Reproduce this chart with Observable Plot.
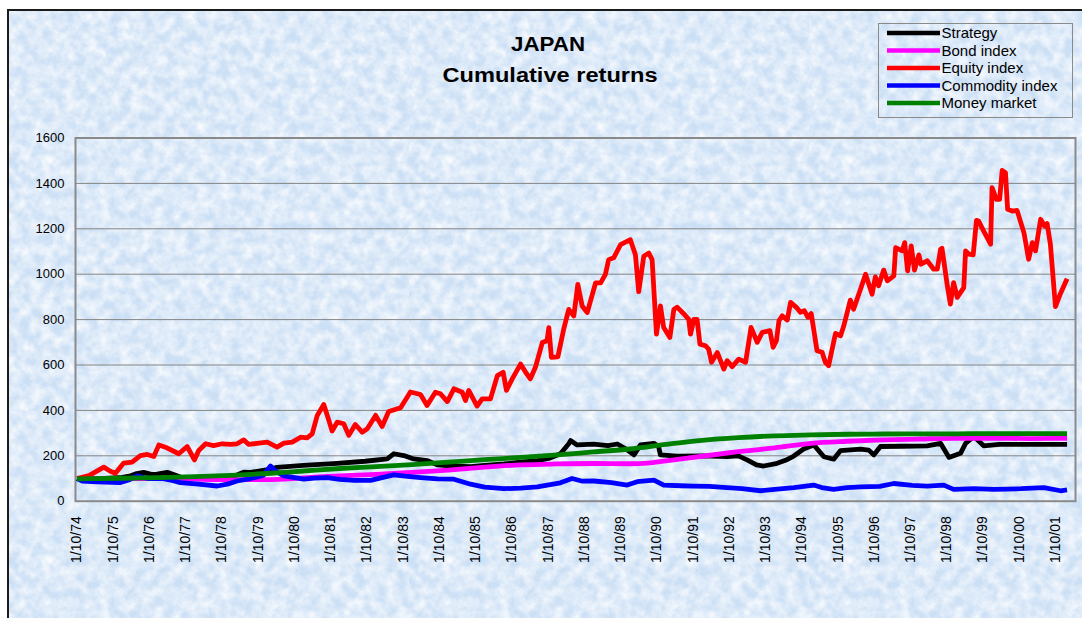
<!DOCTYPE html>
<html>
<head>
<meta charset="utf-8">
<script src="https://cdn.jsdelivr.net/npm/d3@7"></script>
<script src="https://cdn.jsdelivr.net/npm/@observablehq/plot@0.6"></script>
<style>
  body { margin: 0; background: #ffffff; }
  #wrap { position: relative; width: 1082px; height: 618px; overflow: hidden; font-family: Arial, "Liberation Sans", sans-serif; }
  #bg { position: absolute; left: 7px; top: 9px; width: 1100px; height: 640px;
        border-top: 2px solid #1b1b1b; border-left: 2px solid #1b1b1b;
        background-color: #cbdff5;
        background-image: url("data:image/svg+xml;utf8,<svg xmlns='http://www.w3.org/2000/svg' width='400' height='400'><filter id='n'><feTurbulence type='fractalNoise' baseFrequency='0.09' numOctaves='4' seed='7'/><feColorMatrix values='0 0 0 0 1  0 0 0 0 1  0 0 0 0 1  1.4 0 0 0 -0.36'/></filter><rect width='100%' height='100%' filter='url(%23n)'/></svg>"); }
  #chart { position: absolute; left: 0; top: 0; }
  #overlay { position: absolute; left: 0; top: 0; }
</style>
</head>
<body>
<div id="wrap">
  <div id="bg"></div>
  <div id="chart"></div>
  <svg id="overlay" width="1082" height="618"></svg>
</div>
<script>
// ---------- data (decimal years) ----------
const tickLabels = ["1/10/74","1/10/75","1/10/76","1/10/77","1/10/78","1/10/79","1/10/80",
  "1/10/81","1/10/82","1/10/83","1/10/84","1/10/85","1/10/86","1/10/87","1/10/88","1/10/89",
  "1/10/90","1/10/91","1/10/92","1/10/93","1/10/94","1/10/95","1/10/96","1/10/97","1/10/98",
  "1/10/99","1/10/00","1/10/01"];
const yTicks = [0, 200, 400, 600, 800, 1000, 1200, 1400, 1600];

const seriesNames = ["Strategy", "Bond index", "Equity index", "Commodity index", "Money market"];
const seriesColors = ["#000000", "#ff00ff", "#ff0000", "#0000ff", "#008000"];

const strategyYears = [1974.75,1975.5,1976.0,1976.23,1976.40,1976.59,1976.80,1976.96,1977.24,1977.51,1977.70,1978.5,1979.0,1979.2,1979.35,1979.55,1979.81,1980.05,1980.27,1981.0,1981.93,1982.7,1983.31,1983.49,1983.77,1984.04,1984.41,1984.69,1985.2,1985.61,1986.0,1986.53,1987.0,1987.45,1987.8,1988.09,1988.32,1988.37,1988.55,1989.01,1989.40,1989.66,1989.90,1990.12,1990.30,1990.67,1990.80,1990.85,1991.31,1992.0,1992.69,1993.0,1993.24,1993.50,1993.70,1994.07,1994.30,1994.53,1994.80,1995.08,1995.36,1995.63,1995.82,1996.37,1996.60,1996.74,1996.92,1997.5,1998.21,1998.58,1998.81,1999.13,1999.27,1999.50,1999.77,2000.2,2001.0,2002.07];
const strategyValues = [100,100,105,112,122,127,118,119,127,112,100,100,104,118,128,127,134,140,149,158,167,176,186,209,201,186,179,160,154,152,158,164,172,179,190,209,253,267,248,251,245,252,230,204,248,255,240,204,199,200,196,200,182,160,155,167,180,199,230,248,196,185,223,229,225,204,241,242,244,255,193,211,255,285,244,250,250,250];

const bondYears = [1974.75,1976.0,1977.0,1978.0,1979.0,1980.0,1981.0,1982.0,1983.0,1984.0,1985.0,1986.0,1987.0,1988.0,1989.0,1990.0,1990.5,1991.0,1992.0,1993.0,1994.0,1995.0,1996.0,1997.0,1998.0,1999.0,2000.0,2001.0,2002.07];
const bondValues = [100,100,100,97,95,95,103,112,118,127,137,150,160,164,166,165,168,178,198,218,235,255,264,270,274,277,277,276,277];

const equityYears = [1974.75,1975.08,1975.49,1975.67,1975.81,1976.04,1976.27,1976.50,1976.69,1976.87,1977.01,1977.19,1977.42,1977.56,1977.79,1977.99,1978.11,1978.30,1978.52,1978.76,1978.99,1979.17,1979.35,1979.49,1979.77,1980.00,1980.27,1980.46,1980.69,1980.92,1981.10,1981.24,1981.38,1981.56,1981.70,1981.79,1981.93,1982.11,1982.25,1982.43,1982.62,1982.76,1982.99,1983.17,1983.35,1983.68,1983.95,1984.23,1984.41,1984.64,1984.78,1984.97,1985.15,1985.38,1985.47,1985.56,1985.79,1985.93,1986.16,1986.35,1986.51,1986.60,1986.76,1986.99,1987.13,1987.26,1987.40,1987.59,1987.72,1987.77,1987.84,1988.02,1988.18,1988.32,1988.46,1988.57,1988.69,1988.83,1989.06,1989.20,1989.33,1989.42,1989.56,1989.75,1990.02,1990.16,1990.25,1990.39,1990.53,1990.62,1990.74,1990.85,1990.94,1991.11,1991.22,1991.31,1991.49,1991.63,1991.68,1991.77,1991.86,1991.94,1992.09,1992.18,1992.26,1992.42,1992.60,1992.69,1992.83,1993.01,1993.20,1993.35,1993.52,1993.66,1993.87,1993.96,1994.05,1994.12,1994.21,1994.35,1994.44,1994.60,1994.71,1994.82,1994.92,1995.01,1995.17,1995.31,1995.40,1995.49,1995.68,1995.82,1995.91,1996.09,1996.18,1996.37,1996.51,1996.69,1996.78,1996.87,1997.01,1997.11,1997.29,1997.34,1997.52,1997.59,1997.67,1997.77,1997.86,1997.98,1998.04,1998.21,1998.39,1998.49,1998.58,1998.62,1998.76,1998.85,1998.94,1999.04,1999.22,1999.27,1999.36,1999.48,1999.57,1999.63,1999.77,1999.96,2000.00,2000.12,2000.21,2000.28,2000.37,2000.43,2000.56,2000.69,2000.88,2001.01,2001.11,2001.20,2001.34,2001.45,2001.52,2001.61,2001.75,2001.88,2002.07];
const equityValues = [100,113,150,132,123,168,172,201,206,197,248,238,220,209,241,182,223,253,245,253,250,253,270,250,256,260,238,256,260,282,279,297,378,426,356,309,348,341,290,338,304,319,378,329,395,412,481,470,422,480,473,439,495,480,444,488,419,451,451,553,568,488,539,604,568,539,590,699,707,765,634,636,758,845,816,955,860,831,962,962,999,1064,1072,1130,1152,1086,923,1079,1093,1064,736,860,765,721,845,855,826,801,736,801,801,692,685,670,612,655,582,619,593,626,612,766,700,744,751,678,707,795,817,798,876,854,832,839,810,827,663,656,612,597,739,729,773,886,846,934,1000,912,988,949,1018,971,993,1117,1103,1139,1015,1125,1018,1085,1044,1059,1022,1022,1110,1114,956,868,963,898,941,1103,1088,1085,1237,1234,1190,1132,1381,1330,1330,1457,1447,1286,1278,1281,1183,1066,1139,1103,1242,1212,1223,1132,857,912,980];

const commodityYears = [1974.75,1974.9,1975.3,1975.95,1976.2,1976.41,1976.7,1977.1,1977.4,1977.6,1978.1,1978.62,1978.9,1979.17,1979.5,1979.9,1980.09,1980.25,1980.46,1981.01,1981.3,1981.65,1982.0,1982.39,1982.85,1983.2,1983.49,1983.8,1984.23,1984.7,1985.15,1985.61,1986.0,1986.53,1987.0,1987.45,1988.09,1988.41,1988.7,1989.01,1989.5,1989.93,1990.21,1990.67,1990.94,1991.4,1991.77,1992.2,1992.69,1993.1,1993.61,1994.0,1994.53,1995.08,1995.3,1995.63,1996.0,1996.37,1996.9,1997.29,1997.8,1998.21,1998.67,1998.94,1999.5,2000.05,2000.8,2001.43,2001.89,2002.07];
const commodityValues = [100,88,85,82,95,112,100,100,90,82,75,67,75,89,98,115,155,130,112,97,102,104,96,92,92,105,116,110,104,98,97,75,62,55,58,63,81,100,88,89,82,71,86,93,71,68,66,65,60,55,46,52,60,71,60,52,60,63,65,78,70,66,71,52,55,52,55,60,46,50];

const moneyYears = [1974.75,1976.0,1977.0,1978.0,1979.0,1980.0,1981.0,1982.0,1983.0,1984.0,1985.0,1986.0,1987.0,1988.0,1989.0,1990.0,1991.0,1992.0,1993.0,1994.0,1995.0,1996.0,1997.0,1998.0,1999.0,2000.0,2002.07];
const moneyValues = [98,101,104,108,114,122,133,144,152,161,172,183,193,204,217,230,250,268,280,288,292,295,296,297,297,298,298];

// ---------- build rows ----------
const toRows = (ys, vs) => ys.map((y, i) => ({year: y, value: vs[i]}));
const seriesRows = [
  toRows(strategyYears, strategyValues),
  toRows(bondYears, bondValues),
  toRows(equityYears, equityValues),
  toRows(commodityYears, commodityValues),
  toRows(moneyYears, moneyValues)
];
const firstTick = 1974.75;
const tickYears = tickLabels.map((_, i) => firstTick + i);

const chart = Plot.plot({
  width: 1082,
  height: 618,
  marginLeft: 75,
  marginRight: 7,
  marginTop: 137.5,
  marginBottom: 117.3,
  style: {background: "transparent", fontFamily: "Arial, 'Liberation Sans', sans-serif", color: "#000", overflow: "visible"},
  x: {type: "linear", domain: [1974.709, 2002.303]},
  y: {domain: [0, 1600]},
  marks: [
    Plot.gridY(yTicks.filter(v => v > 0 && v < 1600), {stroke: "#858585", strokeOpacity: 1, strokeWidth: 1}),
    Plot.frame({stroke: "#8a8a8a", strokeWidth: 2}),
    Plot.axisY(yTicks, {tickSize: 0, tickPadding: 11, fontSize: 13, label: null, tickFormat: d => String(d)}),
    Plot.axisX(tickYears, {tickSize: 0, tickPadding: 15, tickRotate: -90, fontSize: 14, label: null,
      tickFormat: d => tickLabels[Math.round(d - firstTick)]}),
    ...seriesRows.map((rows, i) => Plot.line(rows, {
      x: "year", y: "value", stroke: seriesColors[i], strokeWidth: 4.8,
      strokeLinejoin: "round", strokeLinecap: "butt",
      curve: (i === 1 || i === 4) ? "monotone-x" : "linear"
    }))
  ]
});
document.getElementById("chart").appendChild(chart);

// ---------- title & legend ----------
const ov = d3.select("#overlay");
const ff = "Arial, 'Liberation Sans', sans-serif";
ov.append("text").attr("x", 548).attr("y", 50.7).attr("text-anchor", "middle")
  .attr("font-family", ff).attr("font-size", 20).attr("font-weight", "bold")
  .attr("textLength", 74).attr("lengthAdjust", "spacingAndGlyphs").text("JAPAN");
ov.append("text").attr("x", 550).attr("y", 81.7).attr("text-anchor", "middle")
  .attr("font-family", ff).attr("font-size", 20).attr("font-weight", "bold")
  .attr("textLength", 215).attr("lengthAdjust", "spacingAndGlyphs").text("Cumulative returns");

ov.append("rect").attr("x", 878.5).attr("y", 23.5).attr("width", 194).attr("height", 94)
  .attr("fill", "none").attr("stroke", "#8a8a8a").attr("stroke-width", 1);
seriesNames.forEach((name, i) => {
  const cy = 33 + i * 17.5;
  ov.append("line").attr("x1", 887).attr("x2", 940).attr("y1", cy).attr("y2", cy)
    .attr("stroke", seriesColors[i]).attr("stroke-width", 4.5);
  ov.append("text").attr("x", 941.5).attr("y", cy + 5.3)
    .attr("font-family", ff).attr("font-size", 15).attr("fill", "#000").text(name);
});
</script>
</body>
</html>
